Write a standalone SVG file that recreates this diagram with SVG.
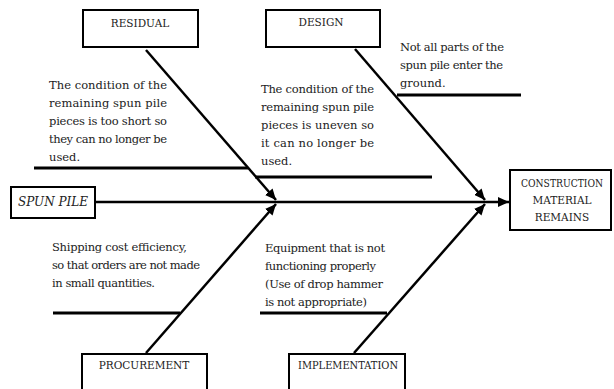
<svg xmlns="http://www.w3.org/2000/svg" width="614" height="389" viewBox="0 0 614 389">
<style>
  .box{fill:#fff;stroke:#000;stroke-width:2}
  .lbl{font-family:"DejaVu Serif","Liberation Serif",serif;font-size:10.5px;fill:#222;text-anchor:middle}
  .txt{font-family:"DejaVu Serif","Liberation Serif",serif;font-size:11.5px;fill:#222}
  .bone{stroke:#000;stroke-width:2.5;fill:none}
  .sub{stroke:#000;stroke-width:3;fill:none}
</style>
<defs>
  <marker id="ah" markerUnits="userSpaceOnUse" markerWidth="12" markerHeight="10" refX="11" refY="5" orient="auto">
    <path d="M0,0 L11,5 L0,10 z" fill="#000"/>
  </marker>
</defs>
<g id="connectors">
  <line class="bone" x1="96" y1="202" x2="509" y2="202" marker-end="url(#ah)"/>
  <line class="bone" x1="146" y1="50" x2="276" y2="200" marker-end="url(#ah)"/>
  <line class="bone" x1="146" y1="353" x2="276" y2="204" marker-end="url(#ah)"/>
  <line class="bone" x1="355" y1="49" x2="485" y2="200" marker-end="url(#ah)"/>
  <line class="bone" x1="354" y1="353" x2="485" y2="204" marker-end="url(#ah)"/>
  <line class="sub" x1="34" y1="168" x2="248" y2="168"/>
  <line class="sub" x1="255" y1="177" x2="432" y2="177"/>
  <line class="sub" x1="397" y1="95" x2="521" y2="95"/>
  <line class="sub" x1="53" y1="313" x2="180" y2="313"/>
  <line class="sub" x1="260" y1="313" x2="387" y2="313"/>
</g>
<g id="residual">
  <rect class="box" x="83" y="10" width="115" height="37"/>
  <text class="lbl" x="140" y="27">RESIDUAL</text>
</g>
<g id="design">
  <rect class="box" x="266" y="10" width="114" height="37"/>
  <text class="lbl" x="321" y="26">DESIGN</text>
</g>
<g id="procurement">
  <rect class="box" x="82" y="354" width="125" height="40"/>
  <text class="lbl" x="144" y="369">PROCUREMENT</text>
</g>
<g id="implementation">
  <rect class="box" x="289" y="354" width="116" height="40"/>
  <text class="lbl" x="348" y="369" textLength="100" lengthAdjust="spacingAndGlyphs">IMPLEMENTATION</text>
</g>
<g id="spun-pile">
  <rect class="box" x="11" y="187" width="84" height="31"/>
  <text class="lbl" x="53" y="206" style="font-size:12px;font-style:italic">SPUN PILE</text>
</g>
<g id="construction">
  <rect class="box" x="510" y="170" width="101" height="60"/>
  <text class="lbl" x="562" y="187" textLength="82" lengthAdjust="spacingAndGlyphs">CONSTRUCTION</text>
  <text class="lbl" x="562" y="204">MATERIAL</text>
  <text class="lbl" x="562" y="221">REMAINS</text>
</g>
<g id="residual-cause">
  <text class="txt" x="49" y="89" textLength="118" lengthAdjust="spacing">The condition of the</text>
  <text class="txt" x="49" y="107" textLength="118" lengthAdjust="spacing">remaining spun pile</text>
  <text class="txt" x="49" y="125" textLength="118" lengthAdjust="spacing">pieces is too short so</text>
  <text class="txt" x="49" y="143" textLength="118" lengthAdjust="spacing">they can no longer be</text>
  <text class="txt" x="49" y="161">used.</text>
</g>
<g id="design-cause-1">
  <text class="txt" x="261" y="93" textLength="113" lengthAdjust="spacing">The condition of the</text>
  <text class="txt" x="261" y="111" textLength="113" lengthAdjust="spacing">remaining spun pile</text>
  <text class="txt" x="261" y="129" textLength="113" lengthAdjust="spacing">pieces is uneven so</text>
  <text class="txt" x="261" y="147" textLength="113" lengthAdjust="spacing">it can no longer be</text>
  <text class="txt" x="261" y="165">used.</text>
</g>
<g id="design-cause-2">
  <text class="txt" x="400" y="51" textLength="104" lengthAdjust="spacing">Not all parts of the</text>
  <text class="txt" x="400" y="69" textLength="103" lengthAdjust="spacing">spun pile enter the</text>
  <text class="txt" x="400" y="87">ground.</text>
</g>
<g id="procurement-cause">
  <text class="txt" x="52" y="251" textLength="135" lengthAdjust="spacing">Shipping cost efficiency,</text>
  <text class="txt" x="52" y="269" textLength="148" lengthAdjust="spacing">so that orders are not made</text>
  <text class="txt" x="52" y="287" textLength="103" lengthAdjust="spacing">in small quantities.</text>
</g>
<g id="implementation-cause">
  <text class="txt" x="265" y="252" textLength="120" lengthAdjust="spacing">Equipment that is not</text>
  <text class="txt" x="265" y="270" textLength="111" lengthAdjust="spacing">functioning properly</text>
  <text class="txt" x="265" y="288" textLength="118" lengthAdjust="spacing">(Use of drop hammer</text>
  <text class="txt" x="265" y="306" textLength="102" lengthAdjust="spacing">is not appropriate)</text>
</g>
</svg>
